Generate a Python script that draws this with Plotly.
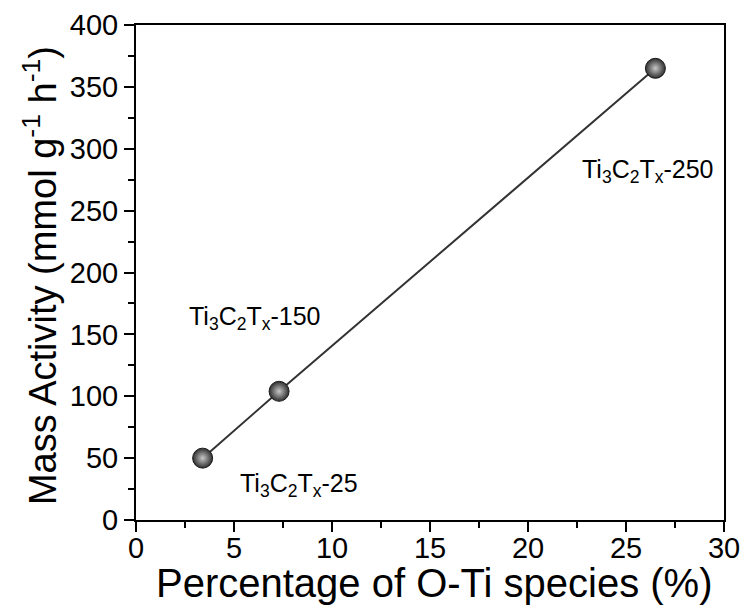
import plotly.graph_objects as go

# Data
o_ti_percent = [3.4, 7.3, 26.5]
mass_activity = [50, 104, 365]
sample_labels = ["Ti<sub>3</sub>C<sub>2</sub>T<sub>x</sub>-25",
                 "Ti<sub>3</sub>C<sub>2</sub>T<sub>x</sub>-150",
                 "Ti<sub>3</sub>C<sub>2</sub>T<sub>x</sub>-250"]
label_x = [8.3, 6.05, 26.1]
label_y = [28, 163, 282]
x_title = "Percentage of O-Ti species (%)"
y_title = "Mass Activity (mmol g<sup>-1</sup> h<sup>-1</sup>)"

FONT = "Liberation Sans, Arial, sans-serif"

fig = go.Figure()
fig.add_trace(go.Scatter(
    x=o_ti_percent, y=mass_activity, mode="lines",
    line=dict(color="#333333", width=2), showlegend=False, hoverinfo="skip"))
fig.add_trace(go.Scatter(
    x=o_ti_percent, y=mass_activity, mode="markers",
    marker=dict(size=20, color="#2e2e2e",
                gradient=dict(type="radial", color="#c8c8c8"),
                line=dict(color="#1a1a1a", width=1)),
    showlegend=False))

for lx, ly, txt in zip(label_x, label_y, sample_labels):
    fig.add_annotation(x=lx, y=ly, text=txt, showarrow=False,
                       font=dict(family=FONT, size=25, color="black"))

# axis titles as annotations for precise placement
fig.add_annotation(xref="paper", yref="paper", x=0.508, y=-0.128,
                   xanchor="center", yanchor="middle", showarrow=False,
                   text=x_title, font=dict(family=FONT, size=40, color="black"))
fig.add_annotation(xref="paper", yref="paper", x=-0.163, y=0.493,
                   xanchor="center", yanchor="middle", showarrow=False,
                   textangle=-90,
                   text=y_title, font=dict(family=FONT, size=38, color="black"))

axis_common = dict(
    showline=True, linecolor="black", linewidth=2, mirror=True,
    ticks="outside", ticklen=10, tickwidth=1.5, tickcolor="black",
    showgrid=False, zeroline=False, automargin=False,
    tickfont=dict(family=FONT, size=29, color="black"),
)

fig.update_xaxes(range=[0, 30], dtick=5, ticklabelstandoff=-9,
                 minor=dict(ticks="outside", ticklen=6, dtick=2.5, tickcolor="black"),
                 **axis_common)
fig.update_yaxes(range=[0, 400], dtick=50,
                 minor=dict(ticks="outside", ticklen=6, dtick=25, tickcolor="black"),
                 **axis_common)

fig.update_layout(
    width=744, height=608,
    margin=dict(l=136, r=20, t=25, b=88),
    plot_bgcolor="white", paper_bgcolor="white",
)

fig.write_html("out.html")
